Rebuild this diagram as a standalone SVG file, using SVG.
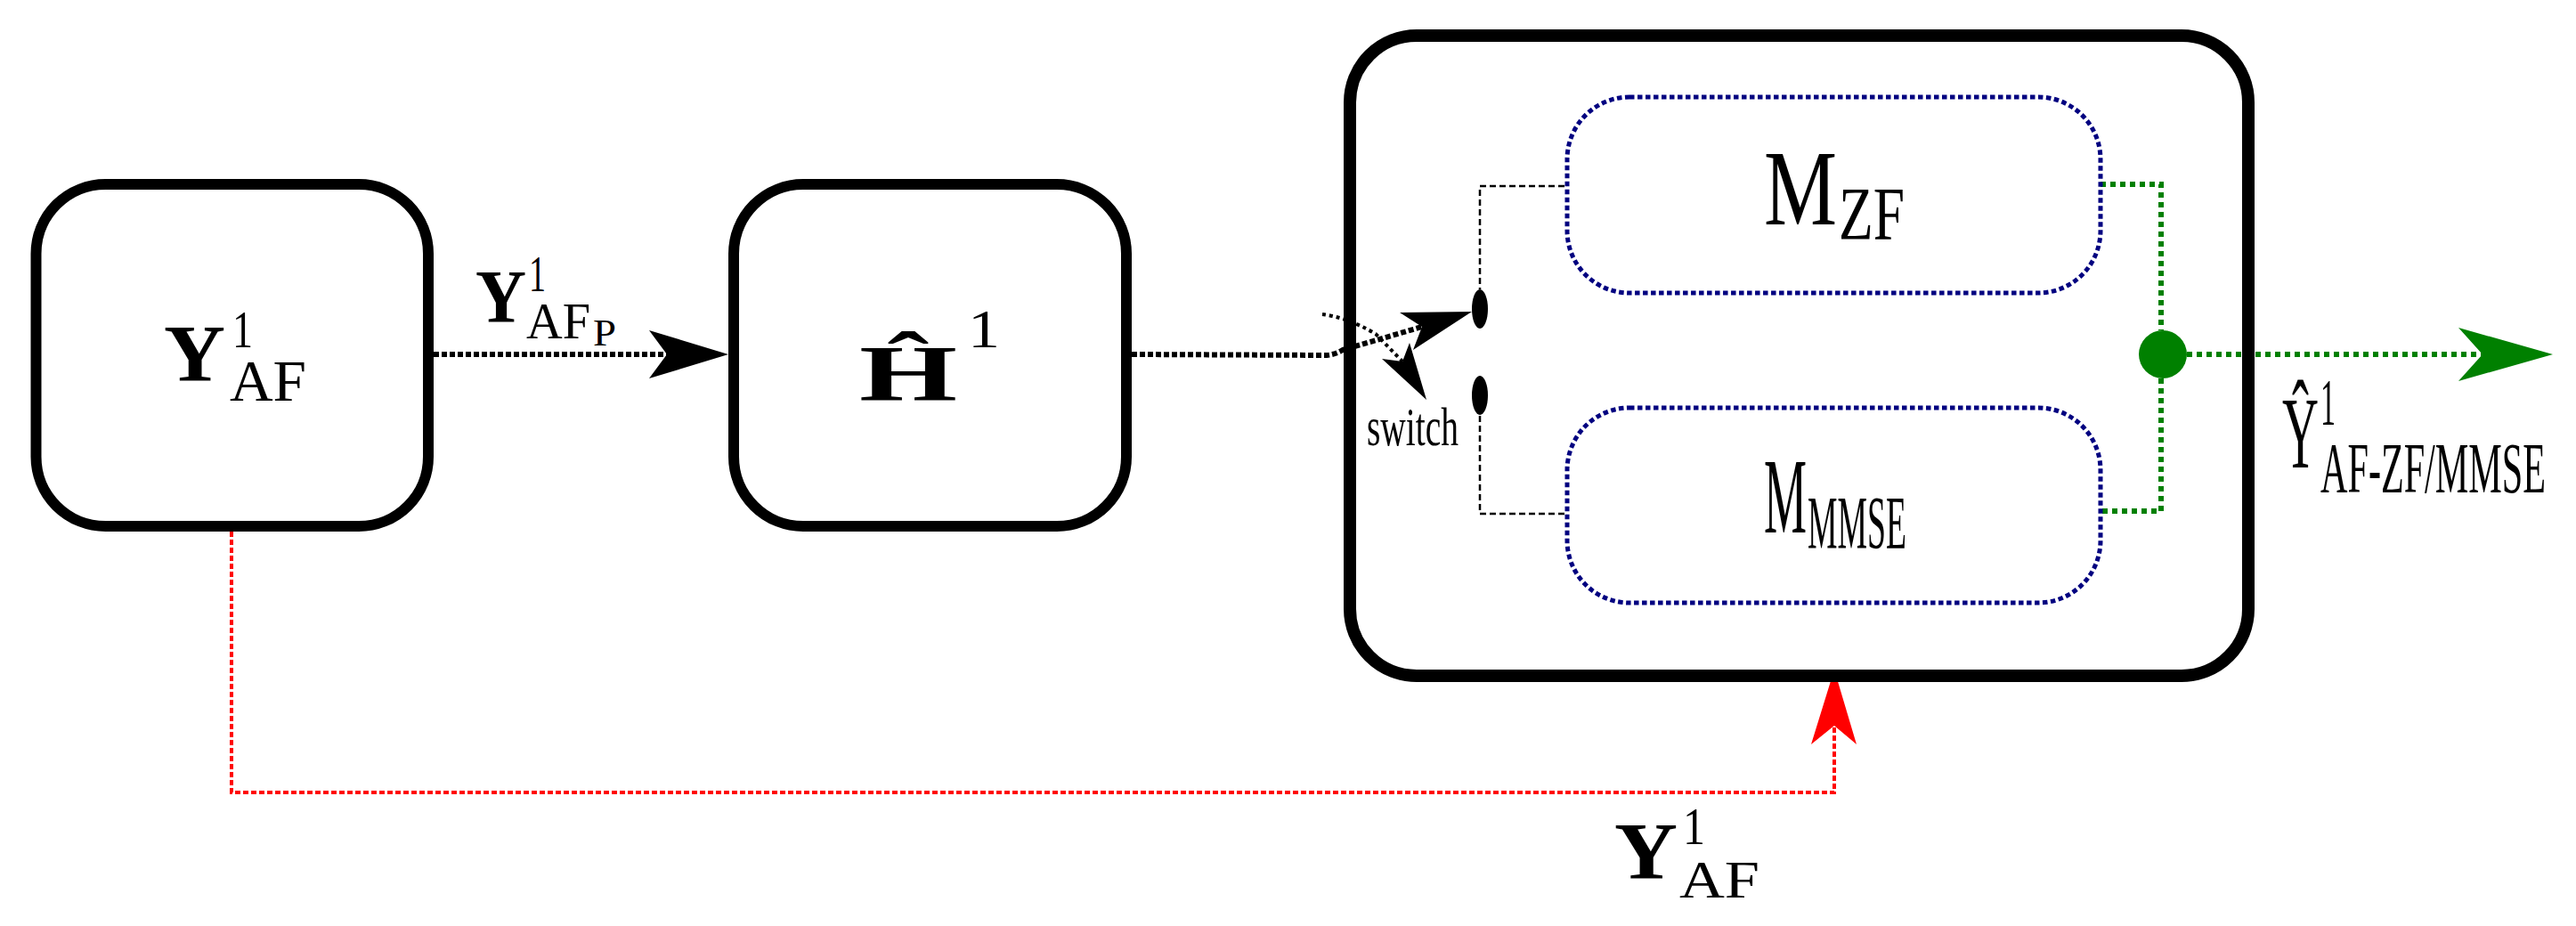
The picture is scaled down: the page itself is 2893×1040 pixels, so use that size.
<svg xmlns="http://www.w3.org/2000/svg" width="2893" height="1040" viewBox="0 0 2893 1040">
<style>
.box{fill:none;stroke:#000;stroke-width:12}
.big{fill:none;stroke:#000;stroke-width:14}
.sub{fill:none;stroke:#000080;stroke-width:5;stroke-dasharray:5.5 3.5}
.t{font-family:"Liberation Serif","DejaVu Serif",serif;fill:#000}
.b{font-weight:bold}
.blk{fill:none;stroke:#000;stroke-width:6;stroke-dasharray:6 3}
.sw{fill:none;stroke:#000;stroke-width:4;stroke-dasharray:4 4}
.thin{fill:none;stroke:#000;stroke-width:2.5;stroke-dasharray:7 4}
.grn{fill:none;stroke:#008000;stroke-width:6;stroke-dasharray:6 5}
.red{fill:none;stroke:#ff0000;stroke-width:4;stroke-dasharray:6 3}
</style>
<rect width="2893" height="1040" fill="#fff"/>
<g id="connectors">
  <path class="blk" d="M487,398 L750,398"/>
  <polygon points="818,398 729,371 749,398 729,425" fill="#000"/>
  <path class="blk" d="M1271,398 L1490,399 Q1500,398 1508,393 L1597,367"/>
  <polygon points="1653,350 1572,351 1597,367 1587,393" fill="#000"/>
  <path class="sw" d="M1485,353 Q1512,356 1545,375 L1575,406"/>
  <polygon points="1602,449 1552,403 1575,406 1583,385" fill="#000"/>
  <path class="thin" d="M1757,209 L1662,209 L1662,325"/>
  <path class="thin" d="M1662,467 L1662,577 L1757,577"/>
  <path class="grn" d="M2359,207 L2427,207 L2427,371"/>
  <path class="grn" d="M2427,425 L2427,574 L2359,574"/>
  <path class="grn" d="M2456,398 L2790,398"/>
  <polygon points="2867,398 2761,368 2788,398 2761,428" fill="#008000"/>
  <path class="red" d="M260,597 L260,890 L2060,890 L2060,816"/>
  <polygon points="2060,752 2034,836 2060,815 2085,836" fill="#ff0000"/>
</g>
<g id="node-yaf">
  <rect class="box" x="40.5" y="207" width="440.5" height="384" rx="78" ry="78"/>
  <text class="t b" x="184" y="428" font-size="90" textLength="69" lengthAdjust="spacingAndGlyphs">Y</text>
  <text class="t" x="261" y="390" font-size="60" textLength="23" lengthAdjust="spacingAndGlyphs">1</text>
  <text class="t" x="258" y="450" font-size="66" textLength="86" lengthAdjust="spacingAndGlyphs">AF</text>
</g>
<g id="label-yafp">
  <text class="t b" x="534" y="362" font-size="85" textLength="57" lengthAdjust="spacingAndGlyphs">Y</text>
  <text class="t" x="594" y="327" font-size="56" textLength="19" lengthAdjust="spacingAndGlyphs">1</text>
  <text class="t" x="591" y="380" font-size="57" textLength="72" lengthAdjust="spacingAndGlyphs">AF</text>
  <text class="t" x="666" y="388" font-size="42" textLength="26" lengthAdjust="spacingAndGlyphs">P</text>
</g>
<g id="node-h">
  <rect class="box" x="824" y="207" width="441" height="384" rx="78" ry="78"/>
  <text class="t b" x="965" y="449" font-size="88" textLength="110" lengthAdjust="spacingAndGlyphs">Ĥ</text>
  <text class="t" x="1087" y="390" font-size="61" textLength="36" lengthAdjust="spacingAndGlyphs">1</text>
</g>
<g id="node-equalizer">
  <rect class="big" x="1516" y="40" width="1009" height="719" rx="75" ry="75"/>
  <ellipse cx="1662" cy="347" rx="9" ry="22" fill="#000"/>
  <ellipse cx="1662" cy="444" rx="9" ry="22" fill="#000"/>
  <text class="t" x="1535" y="500" font-size="62" textLength="103" lengthAdjust="spacingAndGlyphs">switch</text>
  <circle cx="2429" cy="398" r="27" fill="#008000"/>
</g>
<g id="node-mzf">
  <rect class="sub" x="1760" y="109" width="599" height="220" rx="70" ry="70"/>
  <text class="t" x="1981" y="252" font-size="120" textLength="82" lengthAdjust="spacingAndGlyphs">M</text>
  <text class="t" x="2065" y="269" font-size="84" textLength="74" lengthAdjust="spacingAndGlyphs">ZF</text>
</g>
<g id="node-mmmse">
  <rect class="sub" x="1760" y="458" width="599" height="219" rx="70" ry="70"/>
  <text class="t" x="1981" y="598" font-size="120" textLength="48" lengthAdjust="spacingAndGlyphs">M</text>
  <text class="t" x="2030" y="616" font-size="84" textLength="111" lengthAdjust="spacingAndGlyphs">MMSE</text>
</g>
<g id="label-output">
  <text class="t" x="2563" y="525" font-size="115" textLength="41" lengthAdjust="spacingAndGlyphs">Ŷ</text>
  <text class="t" x="2606" y="477" font-size="75" textLength="17" lengthAdjust="spacingAndGlyphs">1</text>
  <text class="t" x="2606" y="553" font-size="80" textLength="253" lengthAdjust="spacingAndGlyphs">AF-ZF/MMSE</text>
</g>
<g id="label-yaf-bottom">
  <text class="t b" x="1813" y="987" font-size="90" textLength="71" lengthAdjust="spacingAndGlyphs">Y</text>
  <text class="t" x="1890" y="948" font-size="60" textLength="25" lengthAdjust="spacingAndGlyphs">1</text>
  <text class="t" x="1886" y="1008" font-size="60" textLength="90" lengthAdjust="spacingAndGlyphs">AF</text>
</g>
</svg>
